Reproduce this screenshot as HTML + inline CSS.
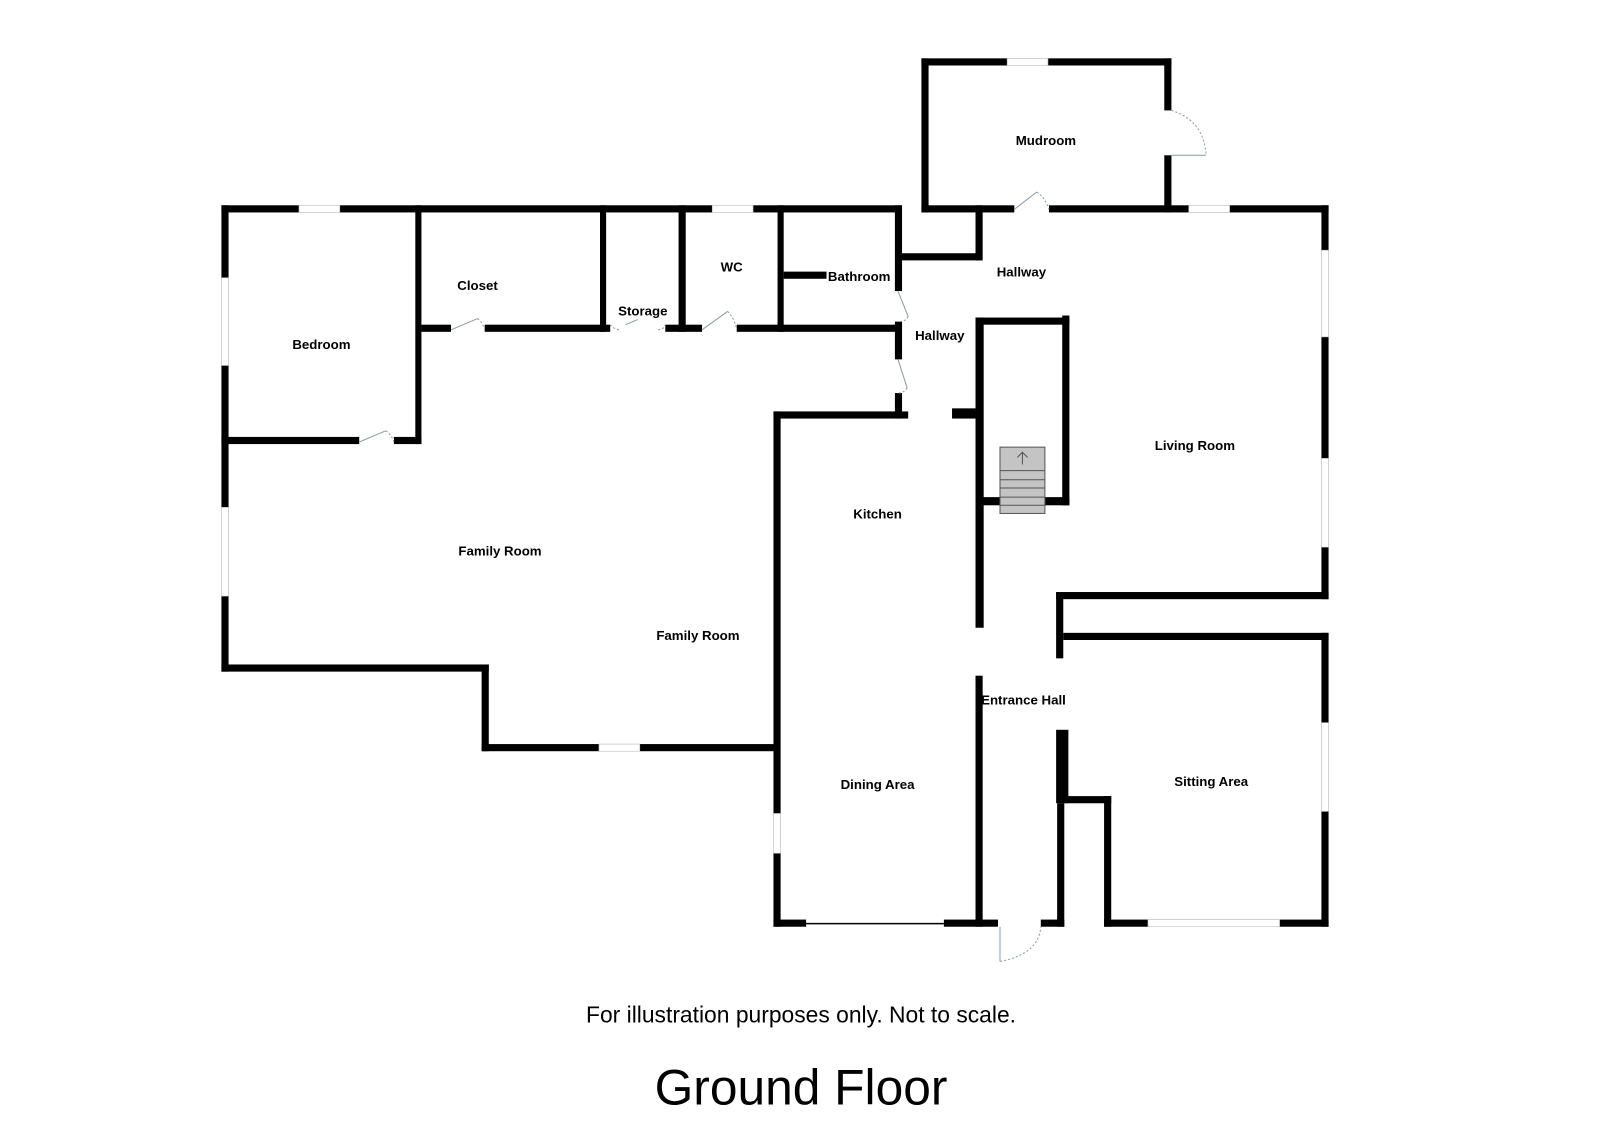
<!DOCTYPE html>
<html><head><meta charset="utf-8"><style>
html,body{margin:0;padding:0;background:#fff;width:1600px;height:1131px;overflow:hidden}
svg{display:block}
text{font-family:"Liberation Sans",Arial,sans-serif}
.l{font-size:13px;font-weight:bold;text-anchor:middle}
</style></head><body>
<svg width="1600" height="1131" viewBox="0 0 1568 1108" xmlns="http://www.w3.org/2000/svg">
<g fill="#000">
<rect x="217" y="201" width="666" height="7"/>
<rect x="217" y="201" width="7" height="457"/>
<rect x="217" y="651" width="262" height="7"/>
<rect x="472" y="651" width="7" height="85"/>
<rect x="472" y="729" width="291" height="7"/>
<rect x="758" y="403" width="7" height="505"/>
<rect x="407" y="201" width="6" height="234"/>
<rect x="217" y="428" width="135" height="7"/>
<rect x="386" y="428" width="27" height="7"/>
<rect x="413" y="318" width="29" height="7"/>
<rect x="475" y="318" width="123" height="7"/>
<rect x="588" y="201" width="6" height="124"/>
<rect x="665" y="201" width="7" height="124"/>
<rect x="652" y="318" width="36" height="7"/>
<rect x="722" y="318" width="161" height="7"/>
<rect x="762" y="201" width="6" height="124"/>
<rect x="768" y="266" width="42" height="7"/>
<rect x="877" y="201" width="7" height="84"/>
<rect x="877" y="315" width="7" height="37"/>
<rect x="877" y="385" width="7" height="25"/>
<rect x="758" y="403" width="132" height="7"/>
<rect x="883" y="248" width="79" height="7"/>
<rect x="956" y="201" width="7" height="54"/>
<rect x="903" y="57" width="245" height="7"/>
<rect x="903" y="57" width="7" height="151"/>
<rect x="1141" y="57" width="7" height="51"/>
<rect x="1141" y="152" width="7" height="56"/>
<rect x="903" y="201" width="91" height="7"/>
<rect x="1028" y="201" width="274" height="7"/>
<rect x="1295" y="201" width="7" height="386"/>
<rect x="1035" y="580" width="267" height="7"/>
<rect x="1035" y="580" width="7" height="65"/>
<rect x="1042" y="620" width="260" height="7"/>
<rect x="1295" y="620" width="7" height="288"/>
<rect x="1082" y="901" width="220" height="7"/>
<rect x="1082" y="780" width="7" height="128"/>
<rect x="1042" y="780" width="47" height="7"/>
<rect x="1035" y="715" width="12" height="72"/>
<rect x="1036" y="787" width="7" height="121"/>
<rect x="1020" y="901" width="23" height="7"/>
<rect x="956" y="311" width="92" height="7"/>
<rect x="1041" y="309" width="7" height="186"/>
<rect x="956" y="311" width="8" height="304"/>
<rect x="963" y="487" width="85" height="8"/>
<rect x="933" y="400" width="23" height="10"/>
<rect x="956" y="662" width="7" height="246"/>
<rect x="758" y="901" width="32" height="7"/>
<rect x="925" y="901" width="53" height="7"/>
</g>
<g fill="#fff" stroke="#bbb" stroke-width="0.6">
<rect x="293" y="201" width="40" height="7"/>
<rect x="217" y="272" width="7" height="86"/>
<rect x="217" y="497" width="7" height="87"/>
<rect x="587" y="729" width="40" height="7"/>
<rect x="698" y="201" width="40" height="7"/>
<rect x="987" y="57" width="40" height="7"/>
<rect x="1165" y="201" width="40" height="7"/>
<rect x="1295" y="245" width="7" height="85"/>
<rect x="1295" y="449" width="7" height="87"/>
<rect x="1295" y="708" width="7" height="87"/>
<rect x="1125" y="901" width="129" height="7"/>
<rect x="758" y="797" width="7" height="39"/>
</g>
<line x1="790" y1="905" x2="925" y2="905" stroke="#000" stroke-width="1.5"/>
<g fill="none" stroke="#8a9aa8" stroke-width="1">
<path d="M352 433 L378 422"/><path d="M378 422 Q384 426 386 433" stroke-dasharray="2,2"/>
<path d="M442 323 L468 312"/><path d="M468 312 Q473 316 475 323" stroke-dasharray="2,2"/>
<path d="M688 323 L713 305"/><path d="M713 305 Q720 312 722 323" stroke-dasharray="2,2"/>
<path d="M613 318 L625 313"/><path d="M598 318 Q602 323 608 323 M645 323 Q650 323 652 318" stroke-dasharray="2,2"/>
<path d="M880 285 L890 310"/><path d="M890 310 Q888 315 880 315" stroke-dasharray="2,2"/>
<path d="M880 352 L889 380"/><path d="M889 380 Q886 385 880 385" stroke-dasharray="2,2"/>
<path d="M994 205 L1016 188"/><path d="M1016 188 Q1024 193 1028 205" stroke-dasharray="2,2"/>
<path d="M1148 108 Q1180 118 1182 152" stroke-dasharray="2,2"/><path d="M1148 152 L1182 152"/>
<path d="M980 908 L980 942"/><path d="M980 942 Q1018 935 1020 908" stroke-dasharray="2,2"/>
</g>
<g stroke="#555" stroke-width="1">
<rect x="980" y="438" width="44" height="65" fill="#c4c4c4"/>
<line x1="980" y1="461" x2="1024" y2="461"/>
<line x1="980" y1="470" x2="1024" y2="470"/>
<line x1="980" y1="478" x2="1024" y2="478"/>
<line x1="980" y1="487" x2="1024" y2="487"/>
<line x1="980" y1="495" x2="1024" y2="495"/>
<path d="M1002 455 L1002 443 M997 448 L1002 443 L1007 448" fill="none"/>
</g>
<g>
<text class="l" x="1025" y="142">Mudroom</text>
<text class="l" x="468" y="284">Closet</text>
<text class="l" x="717" y="266">WC</text>
<text class="l" x="842" y="275">Bathroom</text>
<text class="l" x="630" y="309">Storage</text>
<text class="l" x="1001" y="271">Hallway</text>
<text class="l" x="921" y="333">Hallway</text>
<text class="l" x="315" y="342">Bedroom</text>
<text class="l" x="1171" y="441">Living Room</text>
<text class="l" x="860" y="508">Kitchen</text>
<text class="l" x="490" y="544">Family Room</text>
<text class="l" x="684" y="627">Family Room</text>
<text class="l" x="1003" y="690">Entrance Hall</text>
<text class="l" x="860" y="773">Dining Area</text>
<text class="l" x="1187" y="770">Sitting Area</text>
</g>
<text x="785" y="1002" font-size="22.4" text-anchor="middle">For illustration purposes only. Not to scale.</text>
<text x="785" y="1082" font-size="48.7" text-anchor="middle">Ground Floor</text>
</svg>
</body></html>
